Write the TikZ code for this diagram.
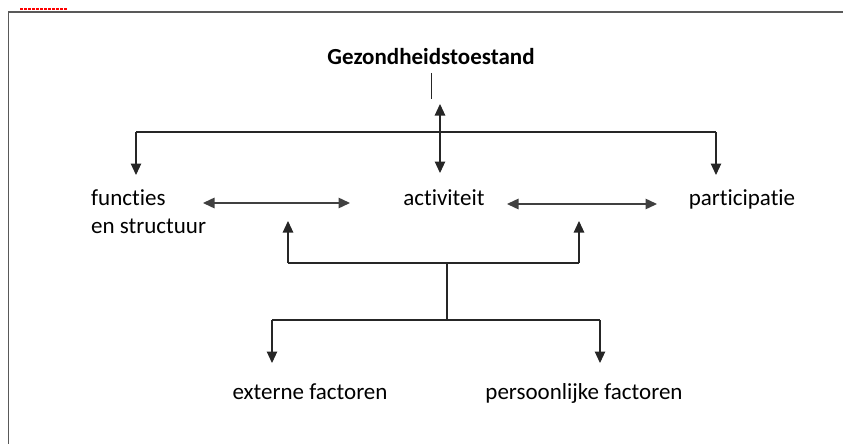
\documentclass[tikz,border=0pt]{standalone}
\usepackage{fontspec}
\setmainfont[Ligatures=NoCommon]{Carlito}
\usetikzlibrary{arrows.meta}
\begin{document}
\begin{tikzpicture}[x=1pt,y=-1pt,
  lbl/.style={inner sep=0pt, font=\fontsize{23}{28}\selectfont, text=black},
  conn/.style={line width=1.1pt, draw=black!85},
  tipend/.style={-{Triangle[width=10.5pt,length=11.5pt]}},
  tipboth/.style={{Triangle[width=10.5pt,length=11.5pt]}-{Triangle[width=10.5pt,length=11.5pt]}}]
\useasboundingbox (0,0) rectangle (843,444);
% frame
\draw[line width=1.6pt, draw=black!65] (8.5,446) -- (8.5,12) -- (845,12);
\draw[red, line width=1.5pt, dash pattern=on 2.5pt off 1.5pt] (20,9) -- (68,9);
% texts
\node[lbl, anchor=base, font=\fontsize{23}{28}\selectfont\bfseries] (gez) at (431,65) {Gezondheidstoestand};
\node[lbl, anchor=base west] (fun) at (91,205) {functies};
\node[lbl, anchor=base west] (str) at (91,233) {en structuur};
\node[lbl, anchor=base] (act) at (444,205.5) {activiteit};
\node[lbl, anchor=base] (par) at (742,205) {participatie};
\node[lbl, anchor=base] (ext) at (310,399) {externe factoren};
\node[lbl, anchor=base] (per) at (584,399) {persoonlijke factoren};
% coordinates
\coordinate (g1) at (431,73);
\coordinate (g2) at (431,99);
\coordinate (tTop) at (440,104);
\coordinate (tBot) at (440,173);
\coordinate (hL) at (136,132);
\coordinate (hR) at (716,132);
\coordinate (aL) at (136,175);
\coordinate (aR) at (716,175);
\coordinate (d1a) at (203,203);
\coordinate (d1b) at (350,203);
\coordinate (d2a) at (507,204);
\coordinate (d2b) at (657,204);
\coordinate (uL) at (288,221);
\coordinate (uR) at (579,221);
\coordinate (mL) at (288,263);
\coordinate (mR) at (579,263);
\coordinate (mC) at (447,263);
\coordinate (bC) at (447,320);
\coordinate (bL) at (272,320);
\coordinate (bR) at (600,320);
\coordinate (eL) at (272,363);
\coordinate (eR) at (600,363);
% connectors
\draw[conn, line width=0.9pt] (g1) -- (g2);
\draw[conn, tipboth] (tTop) -- (tBot);
\draw[conn, tipend] (hL) -- (aL);
\draw[conn] (hL) -- (hR);
\draw[conn, tipend] (hR) -- (aR);
\draw[conn, tipboth, line width=1.4pt, draw=black!75] (d1a) -- (d1b);
\draw[conn, tipboth, line width=1.4pt, draw=black!75] (d2a) -- (d2b);
\draw[conn, tipend] (mL) -- (uL);
\draw[conn] (mL) -- (mR);
\draw[conn, tipend] (mR) -- (uR);
\draw[conn] (mC) -- (bC);
\draw[conn, tipend] (bL) -- (eL);
\draw[conn] (bL) -- (bR);
\draw[conn, tipend] (bR) -- (eR);
\end{tikzpicture}
\end{document}
